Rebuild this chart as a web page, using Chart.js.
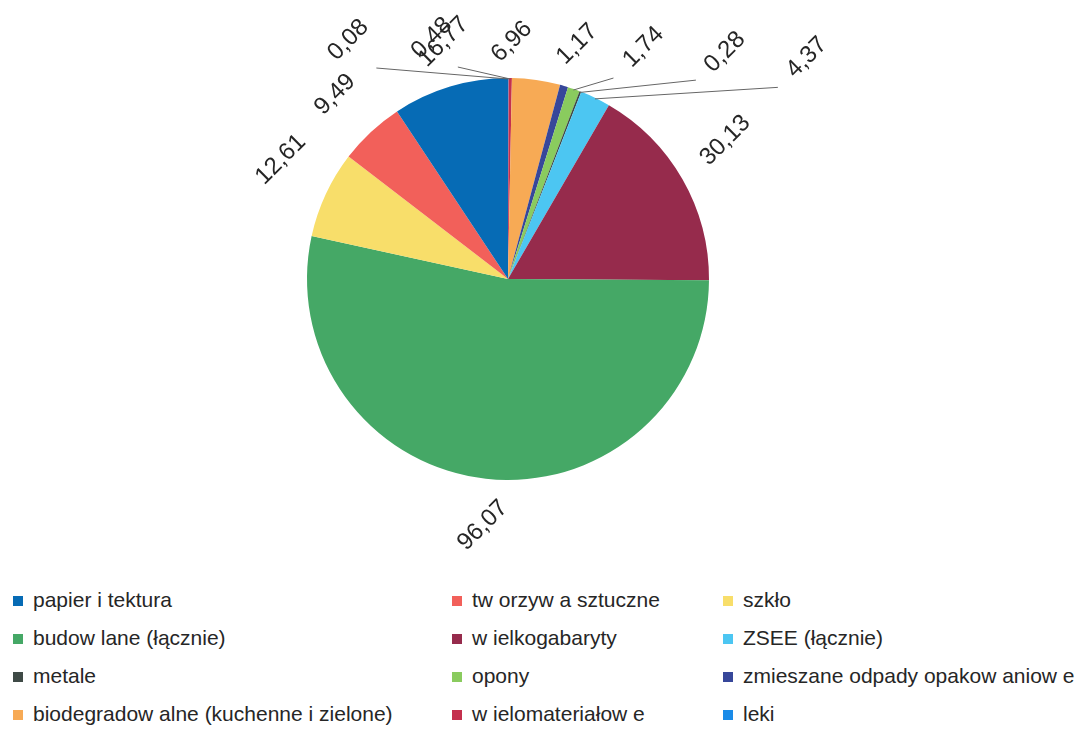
<!DOCTYPE html>
<html>
<head>
<meta charset="utf-8">
<script src="https://cdn.jsdelivr.net/npm/chart.js@4/dist/chart.umd.min.js"></script>
<style>
  body { margin: 0; background: #fff; font-family: "Liberation Sans", Arial, sans-serif; }
  #wrap { position: relative; width: 1082px; height: 732px; }
  #pie { position: absolute; left: 0; top: 0; }
  .legend { position: absolute; left: 0; top: 588px; width: 1082px; height: 144px; }
  .item { position: absolute; font-size: 21px; color: #262626; white-space: nowrap; line-height: 24px; }
  .item i { display: inline-block; width: 10px; height: 10px; margin-right: 10px; vertical-align: 1px; }
</style>
</head>
<body>
<div id="wrap">
  <canvas id="pie" width="1082" height="580"></canvas>
  <div class="legend" id="legend"></div>
</div>
<script>
// DATA ------------------------------------------------------

const categories = [
    "papier i tektura", "tw orzyw a sztuczne", "szkło",
    "budow lane (łącznie)", "w ielkogabaryty", "ZSEE (łącznie)",
    "metale", "opony", "zmieszane odpady opakow aniow e",
    "biodegradow alne (kuchenne i zielone)", "w ielomateriałow e", "leki"
];
const values = [16.77, 9.49, 12.61, 96.07, 30.13, 4.37, 0.28, 1.74, 1.17, 6.96, 0.48, 0.08];
const colors = [
    '#066BB5', '#F2605A', '#F8DE6A',
    '#45A866', '#962B4C', '#4CC6F2',
    '#3F4A46', '#8ACB5E', '#37479A',
    '#F7AA55', '#C4304E', '#1A8BE8'
];

// label nudges (px) from the default spot outside each slice, and leader line starts
const labelNudge = [[9, 7], [1, 2], [4, -12], [3, -7], [-4, -12], [188, 8],
                    [125, 11], [52, 9], [-2, 10], [-32, 15], [-79, 14], [-160, 16]];
const leader = [null, null, null, null, null, [-29, 30],
                [-29, 28], [-30, 31], null, null, [26, 29], [28, 28]];

// the slices run anticlockwise in the picture, so feed them reversed
const order = values.map((v, i) => i).reverse();

// LEGEND ------------------------------------------------------

const legendBox = document.getElementById("legend");
const colX = [13, 452, 723];
categories.forEach((name, i) => {
    const row = Math.floor(i / 3), col = i % 3;
    const div = document.createElement("div");
    div.className = "item";
    div.style.left = colX[col] + "px";
    div.style.top = (row * 38) + "px";
    div.innerHTML = `<i style="background:${colors[i]}"></i>${name}`;
    legendBox.appendChild(div);
});

// LABEL PLUGIN ------------------------------------------------------

const sliceLabels = {
    id: 'sliceLabels',
    afterDatasetsDraw(chart) {
        const ctx = chart.ctx;
        const meta = chart.getDatasetMeta(0);
        ctx.save();
        ctx.font = '24px "Liberation Sans", Arial, sans-serif';
        ctx.fillStyle = '#262626';
        ctx.textAlign = 'center';
        ctx.textBaseline = 'middle';
        meta.data.forEach((arc, k) => {
            const i = order[k];
            const p = arc.getProps(['x', 'y', 'startAngle', 'endAngle', 'outerRadius'], true);
            const mid = (p.startAngle + p.endAngle) / 2;
            const r = p.outerRadius + 54;
            const lx = p.x + Math.cos(mid) * r + labelNudge[i][0];
            const ly = p.y + Math.sin(mid) * r + labelNudge[i][1];
            if (leader[i]) {
                ctx.strokeStyle = '#666';
                ctx.lineWidth = 1;
                ctx.beginPath();
                ctx.moveTo(lx + leader[i][0], ly + leader[i][1]);
                ctx.lineTo(p.x + Math.cos(mid) * (p.outerRadius - 1), p.y + Math.sin(mid) * (p.outerRadius - 1));
                ctx.stroke();
            }
            ctx.save();
            ctx.translate(lx, ly);
            ctx.rotate(-Math.PI / 4);
            ctx.fillText(values[i].toFixed(2).replace('.', ','), 0, 0);
            ctx.restore();
        });
        ctx.restore();
    }
};

// PIE CHART ------------------------------------------------------

const pieCanvas = document.getElementById("pie");

const pieData = {
    labels: order.map(i => categories[i]),
    datasets: [{
        data: order.map(i => values[i]),
        backgroundColor: order.map(i => colors[i]),
        borderWidth: 0
    }]
};

const pieOptions = {
    responsive: false,
    animation: false,
    layout: {
        padding: { left: 307, right: 373, top: 78, bottom: 100 }
    },
    plugins: {
        legend: { display: false },
        tooltip: { enabled: false }
    }
};

let pieChart = new Chart(pieCanvas, {
    type: 'pie',
    data: pieData,
    options: pieOptions,
    plugins: [sliceLabels]
});
</script>
</body>
</html>
